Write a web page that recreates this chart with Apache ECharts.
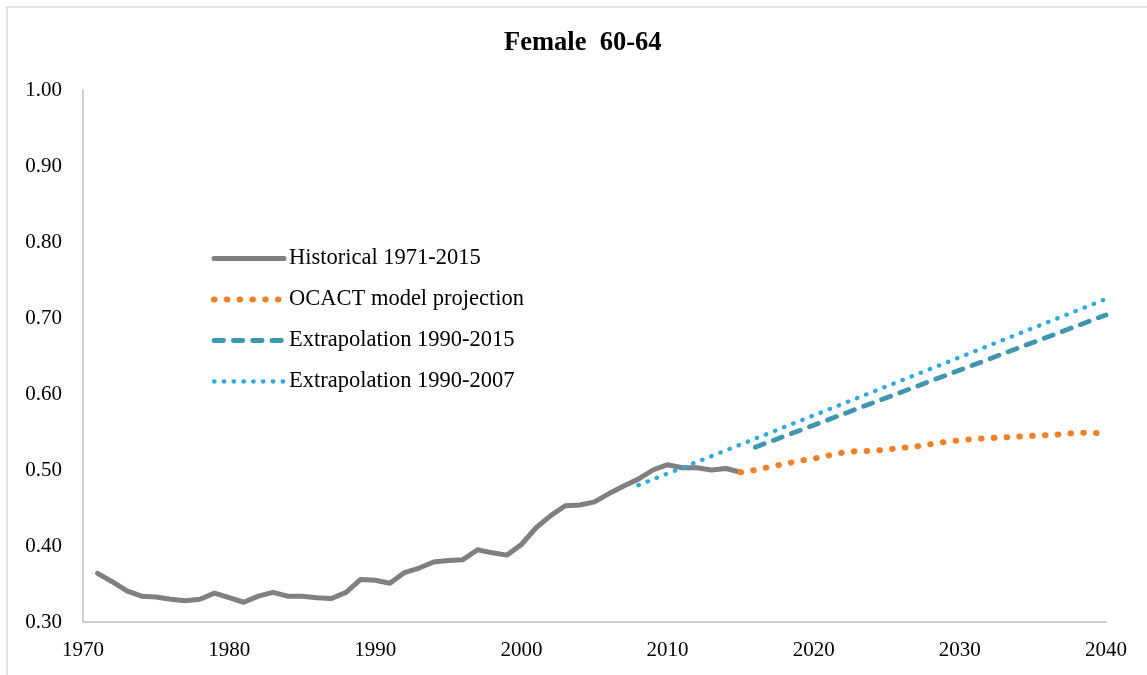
<!DOCTYPE html>
<html>
<head>
<meta charset="utf-8">
<title>Female 60-64</title>
<script src="https://cdn.jsdelivr.net/npm/echarts@6/dist/echarts.min.js"></script>
<style>
  html, body { margin: 0; padding: 0; background: #fff; }
  #main { width: 1147px; height: 675px; }
</style>
</head>
<body>
<div id="main"></div>
<script>
// historical participation rate 1971-2015
var histYears = [];
for (var y = 1971; y <= 2015; y++) histYears.push(y);
var histValues = [
  0.364, 0.353, 0.341, 0.334, 0.333, 0.330, 0.328, 0.330, 0.338, 0.332,
  0.326, 0.334, 0.339, 0.334, 0.334, 0.332, 0.331, 0.339, 0.356, 0.355,
  0.351, 0.365, 0.371, 0.379, 0.381, 0.382, 0.395, 0.391, 0.388, 0.402,
  0.424, 0.440, 0.453, 0.454, 0.458, 0.469, 0.479, 0.488, 0.500, 0.507,
  0.503, 0.503, 0.500, 0.502, 0.497
];

// OCACT model projection 2015-2040
var projYears = [];
for (var y2 = 2015; y2 <= 2040; y2++) projYears.push(y2);
var projValues = [
  0.497, 0.500, 0.504, 0.508, 0.512, 0.515, 0.519, 0.523, 0.525, 0.525,
  0.527, 0.529, 0.531, 0.534, 0.537, 0.539, 0.541, 0.542, 0.543, 0.544,
  0.545, 0.546, 0.547, 0.549, 0.549, 0.548
];

// straight-line extrapolations
var ext2015Years = [2016, 2040];
var ext2015Values = [0.530, 0.704];
var ext2007Years = [2008, 2040];
var ext2007Values = [0.480, 0.725];

var xTicks = [1970, 1980, 1990, 2000, 2010, 2020, 2030, 2040];

function pairs(xs, ys) {
  return xs.map(function (x, i) { return [x, ys[i]]; });
}

var font = '"Liberation Serif", "DejaVu Serif", serif';

var myChart = echarts.init(document.getElementById('main'));
myChart.setOption({
  animation: false,
  backgroundColor: '#fff',
  graphic: [{
    type: 'rect',
    shape: { x: 7, y: 7, width: 1160, height: 690 },
    style: { fill: 'none', stroke: '#d9d9d9', lineWidth: 1.5 },
    silent: true,
    z: -10
  }],
  title: {
    text: 'Female  60-64',
    left: 504,
    top: 30,
    padding: 0,
    textStyle: { fontFamily: font, fontSize: 26.5, fontWeight: 'bold', color: '#000' }
  },
  legend: {
    orient: 'vertical',
    left: 211,
    top: 247,
    padding: 0,
    itemGap: 18,
    itemWidth: 70,
    itemHeight: 6,
    itemTextGap: 6,
    itemStyle: { opacity: 0 },
    lineStyle: { width: 'inherit', type: 'inherit', cap: 'inherit' },
    textStyle: { fontFamily: font, fontSize: 22.5, color: '#000' },
    data: ['Historical 1971-2015', 'OCACT model projection', 'Extrapolation 1990-2015', 'Extrapolation 1990-2007']
  },
  grid: { left: 83, right: 41, top: 90, bottom: 53 },
  xAxis: {
    type: 'value',
    min: 1970,
    max: 2040,
    interval: 10,
    axisLine: { lineStyle: { color: '#bfbfbf', width: 1.5 } },
    axisTick: { show: false },
    splitLine: { show: false },
    axisLabel: {
      margin: 18,
      fontFamily: font, fontSize: 21, color: '#000',
      formatter: function (v) { return xTicks.indexOf(v) >= 0 ? String(v) : ''; }
    }
  },
  yAxis: {
    type: 'value',
    min: 0.3,
    max: 1.0,
    interval: 0.1,
    axisLine: { show: true, lineStyle: { color: '#bfbfbf', width: 1.5 } },
    axisTick: { show: false },
    splitLine: { show: false },
    axisLabel: {
      margin: 21,
      fontFamily: font, fontSize: 21, color: '#000',
      formatter: function (v) { return v.toFixed(2); }
    }
  },
  series: [
    {
      name: 'Historical 1971-2015',
      type: 'line',
      data: pairs(histYears, histValues),
      showSymbol: false,
      symbol: 'none',
      color: '#808080',
      lineStyle: { color: '#808080', width: 5, cap: 'round', join: 'round' }
    },
    {
      name: 'OCACT model projection',
      type: 'line',
      data: pairs(projYears, projValues),
      showSymbol: false,
      symbol: 'none',
      color: '#f57f22',
      lineStyle: { color: '#f57f22', width: 6, type: [0.5, 12.3], cap: 'round' }
    },
    {
      name: 'Extrapolation 1990-2015',
      type: 'line',
      data: pairs(ext2015Years, ext2015Values),
      showSymbol: false,
      symbol: 'none',
      color: '#3f97ae',
      lineStyle: { color: '#3f97ae', width: 4.8, type: [9.5, 9.8], cap: 'round' }
    },
    {
      name: 'Extrapolation 1990-2007',
      type: 'line',
      data: pairs(ext2007Years, ext2007Values),
      showSymbol: false,
      symbol: 'none',
      color: '#2babe2',
      lineStyle: { color: '#2babe2', width: 4.3, type: [0.5, 9.3], cap: 'round' }
    }
  ]
});
window.addEventListener('resize', function () { myChart.resize(); });
</script>
</body>
</html>
